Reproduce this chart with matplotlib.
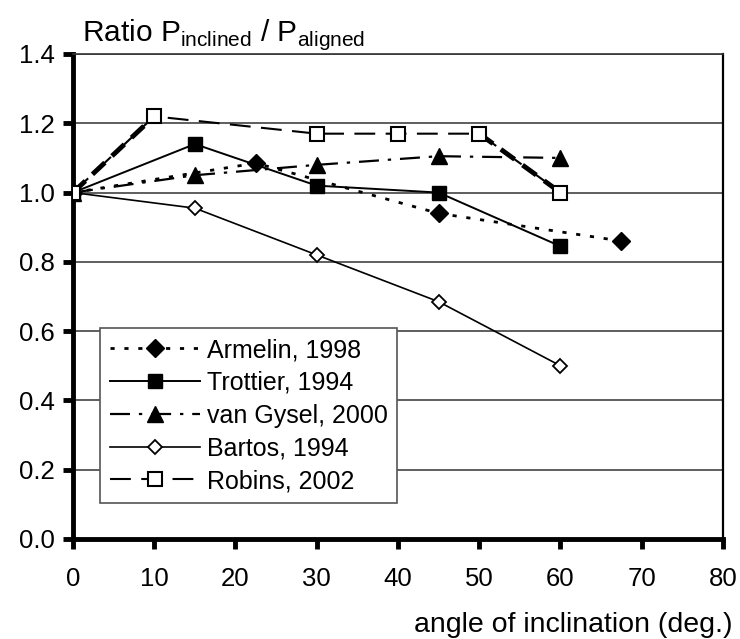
import matplotlib
matplotlib.use('Agg')
import matplotlib.pyplot as plt

plt.rcParams['font.family'] = ['Liberation Sans', 'DejaVu Sans']

# ── data ──────────────────────────────────────────────────────────
armelin_x = [0, 22.5, 45, 67.5]
armelin_y = [1.00, 1.085, 0.94, 0.86]

trottier_x = [0, 15, 30, 45, 60]
trottier_y = [1.00, 1.14, 1.02, 1.00, 0.845]

gysel_x = [0, 15, 30, 45, 60]
gysel_y = [1.00, 1.05, 1.08, 1.105, 1.10]

bartos_x = [0, 15, 30, 45, 60]
bartos_y = [1.00, 0.955, 0.82, 0.685, 0.50]

robins_x = [0, 10, 30, 40, 50, 60]
robins_y = [1.00, 1.22, 1.17, 1.17, 1.17, 1.00]

x_ticks = [0, 10, 20, 30, 40, 50, 60, 70, 80]
y_ticks = [0.0, 0.2, 0.4, 0.6, 0.8, 1.0, 1.2, 1.4]

# ── figure ────────────────────────────────────────────────────────
fig = plt.figure(figsize=(7.4, 6.39), dpi=100)
ax = fig.add_axes([0.0986, 0.1565, 0.8784, 0.759])

for y in y_ticks[1:]:
    ax.axhline(y, color='#333333', linewidth=1.1, zorder=1)

ax.plot(armelin_x, armelin_y, color='k', linewidth=2.0,
        linestyle=(0, (1.5, 3.5)), marker='D', markersize=9.5,
        markerfacecolor='k', label='Armelin, 1998', zorder=4)
ax.plot(trottier_x, trottier_y, color='k', linewidth=1.4, linestyle='-',
        marker='s', markersize=10.5, markerfacecolor='k',
        label='Trottier, 1994', zorder=4)
ax.plot(gysel_x, gysel_y, color='k', linewidth=1.6,
        linestyle=(0, (9, 4, 1.5, 4)), marker='^', markersize=11,
        markerfacecolor='k', label='van Gysel, 2000', zorder=4)
ax.plot(bartos_x, bartos_y, color='k', linewidth=1.2, linestyle='-',
        marker='D', markersize=7, markerfacecolor='white',
        markeredgewidth=1.3, label='Bartos, 1994', zorder=4)

# Robins: thick dashed at the ends, thin dashed in the middle
ax.plot(robins_x[:2], robins_y[:2], color='k', linewidth=3.5,
        linestyle=(0, (3.5, 2)), zorder=3)
ax.plot(robins_x[-2:], robins_y[-2:], color='k', linewidth=3.5,
        linestyle=(0, (3.5, 2)), zorder=3)
ax.plot(robins_x, robins_y, color='k', linewidth=1.5,
        linestyle=(0, (10, 5)), marker='s', markersize=10.5,
        markerfacecolor='white', markeredgewidth=1.5,
        label='Robins, 2002', zorder=4)

ax.set_xlim(0, 80)
ax.set_ylim(0, 1.4)
ax.set_xticks(x_ticks)
ax.set_yticks(y_ticks)
ax.set_xticklabels([str(v) for v in x_ticks])
ax.set_yticklabels([f'{v:.1f}' for v in y_ticks])
ax.tick_params(axis='both', direction='out', length=7, width=3.5,
               labelsize=18.5, color='k')
ax.tick_params(axis='x', pad=13)
ax.tick_params(axis='y', pad=6)

for side in ('left', 'bottom'):
    ax.spines[side].set_linewidth(3.5)
ax.spines['right'].set_linewidth(1.6)
ax.spines['top'].set_linewidth(1.2)
ax.spines['top'].set_color('#333333')

leg = ax.legend(loc='lower left', bbox_to_anchor=(0.042, 0.074),
                fontsize=18, handlelength=3.6, handletextpad=0.25,
                borderpad=0.4, labelspacing=0.35, fancybox=False,
                framealpha=1, edgecolor='#555555', borderaxespad=0)
leg.get_frame().set_linewidth(1.2)

fig.text(0.111, 0.936,
         r'Ratio P$_{\mathregular{inclined}}$ / P$_{\mathregular{aligned}}$',
         fontsize=21.5, ha='left', va='baseline')
fig.text(0.99, 0.002, 'angle of inclination (deg.)', fontsize=20.5,
         ha='right', va='bottom')

fig.savefig('out.png', dpi=100)
